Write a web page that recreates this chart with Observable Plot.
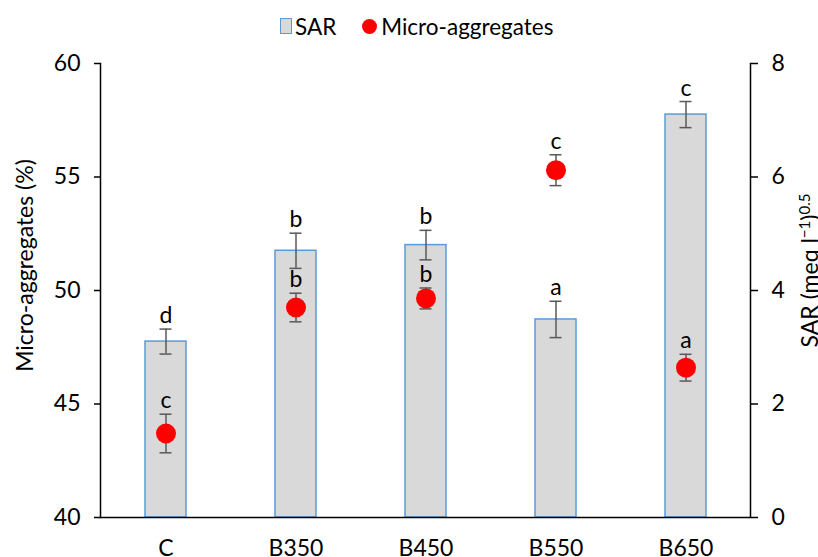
<!DOCTYPE html>
<html>
<head>
<meta charset="utf-8">
<script src="https://cdn.jsdelivr.net/npm/d3@7"></script>
<script src="https://cdn.jsdelivr.net/npm/@observablehq/plot@0.6"></script>
<style>
  html, body { margin: 0; padding: 0; background: #fff; overflow: hidden; }
  body { font-family: Lato, "Noto Sans", sans-serif; color: #000; width: 818px; height: 557px; position: relative; }
  #legend { position: absolute; left: 280px; top: 9px; height: 34px; display: flex; align-items: center; font-size: 22.5px; white-space: nowrap; }
  #legend .sq { width: 10px; height: 14px; background: #d9d9d9; border: 1.5px solid #5b9bd5; margin-right: 3px; }
  #legend .dt { width: 15px; height: 15px; border-radius: 50%; background: #ff0000; margin-left: 26px; margin-right: 4px; }
  #chart { position: absolute; left: 0; top: 44px; }
</style>
</head>
<body>
<div id="legend"><span class="sq"></span><span>SAR</span><span class="dt"></span><span>Micro-aggregates</span></div>
<div id="chart"></div>
<script>
// ---- data ----
const treatments = ["C", "B350", "B450", "B550", "B650"];
const sar = [3.10, 4.70, 4.80, 3.49, 7.10];
const sarErr = [0.22, 0.31, 0.26, 0.32, 0.23];
const sarLetters = ["d", "b", "b", "a", "c"];
const micro = [43.7, 49.25, 49.65, 55.3, 46.6];
const microErr = [0.85, 0.63, 0.46, 0.68, 0.59];
const microLetters = ["c", "b", "b", "c", "a"];
const microTicks = [40, 45, 50, 55, 60];
const sarTicks = [0, 2, 4, 6, 8];

// map the secondary (SAR) axis onto the primary scale
const yMin = microTicks[0], yMax = microTicks[microTicks.length - 1];
const sMax = sarTicks[sarTicks.length - 1];
const toY = s => yMin + s * (yMax - yMin) / sMax;
const fromY = y => Math.round((y - yMin) * sMax / (yMax - yMin) * 100) / 100;

const rows = treatments.map((t, i) => ({
  t,
  sarY: toY(sar[i]),
  sarLo: toY(sar[i] - sarErr[i]),
  sarHi: toY(sar[i] + sarErr[i]),
  sarLetter: sarLetters[i],
  micro: micro[i],
  mLo: micro[i] - microErr[i],
  mHi: micro[i] + microErr[i],
  mLetter: microLetters[i]
}));

const errColor = "#595959";
const capInset = 14.5;

const chart = Plot.plot({
  width: 818,
  height: 513,
  marginTop: 19,
  marginBottom: 40,
  marginLeft: 100,
  marginRight: 68,
  style: { fontFamily: "Lato, 'Noto Sans', sans-serif", color: "#000", background: "#fff" },
  x: { type: "band", domain: treatments, paddingInner: 0.685, paddingOuter: 0.3425, axis: null },
  y: { domain: [yMin, yMax], axis: null },
  marks: [
    Plot.barY(rows, { x: "t", y1: yMin, y2: "sarY", fill: "#d9d9d9", stroke: "#5b9bd5", strokeWidth: 1.5 }),
    Plot.ruleX(rows, { x: "t", y1: "sarLo", y2: "sarHi", stroke: errColor, strokeWidth: 1.5 }),
    Plot.tickY(rows, { x: "t", y: "sarLo", insetLeft: capInset, insetRight: capInset, stroke: errColor, strokeWidth: 1.5 }),
    Plot.tickY(rows, { x: "t", y: "sarHi", insetLeft: capInset, insetRight: capInset, stroke: errColor, strokeWidth: 1.5 }),
    Plot.ruleX(rows, { x: "t", y1: "mLo", y2: "mHi", stroke: errColor, strokeWidth: 1.5 }),
    Plot.tickY(rows, { x: "t", y: "mLo", insetLeft: capInset, insetRight: capInset, stroke: errColor, strokeWidth: 1.5 }),
    Plot.tickY(rows, { x: "t", y: "mHi", insetLeft: capInset, insetRight: capInset, stroke: errColor, strokeWidth: 1.5 }),
    Plot.dot(rows, { x: "t", y: "micro", r: 10, fill: "#ff0000", stroke: null }),
    Plot.text(rows, { x: "t", y: "sarHi", text: "sarLetter", lineAnchor: "bottom", dy: -6, fontSize: 23, fill: "#000" }),
    Plot.text(rows, { x: "t", y: "mHi", text: "mLetter", lineAnchor: "bottom", dy: -6, fontSize: 23, fill: "#000" }),
    Plot.ruleY([yMin], { stroke: "#000", strokeWidth: 1.5 }),
    Plot.frame({ anchor: "left", stroke: "#000", strokeWidth: 1.5 }),
    Plot.frame({ anchor: "right", stroke: "#000", strokeWidth: 1.5 }),
    Plot.axisY(microTicks, { anchor: "left", tickSize: 6, tickPadding: 14, fontSize: 23, stroke: "#000", strokeWidth: 1.5, fill: "#000", label: null }),
    Plot.axisY(sarTicks.map(toY), { anchor: "right", tickSize: 7, tickPadding: 14, fontSize: 23, stroke: "#000", strokeWidth: 1.5, fill: "#000", tickFormat: d => String(fromY(d)), label: null }),
    Plot.axisX({ tickSize: 0, tickPadding: 22, fontSize: 23, fill: "#000", label: null }),
    Plot.text(["Micro-aggregates (%)"], { frameAnchor: "left", textAnchor: "middle", dx: -75, dy: -25, rotate: -90, fontSize: 23, fill: "#000" }),
    Plot.text(["SAR"], { frameAnchor: "right", textAnchor: "middle", dx: 60, dy: -20, rotate: -90, fontSize: 23, fill: "#000", className: "sartitle" })
  ]
});
document.getElementById("chart").appendChild(chart);

// rich text (superscripts) for the secondary axis title
const tt = d3.select(chart).select("g.sartitle text");
tt.text(null);
tt.append("tspan").text("SAR (meq l");
tt.append("tspan").attr("dy", "-8").attr("font-size", "15").text("\u22121");
tt.append("tspan").attr("dy", "8").text(")");
tt.append("tspan").attr("dy", "-8").attr("font-size", "15").text("0.5");
</script>
</body>
</html>
